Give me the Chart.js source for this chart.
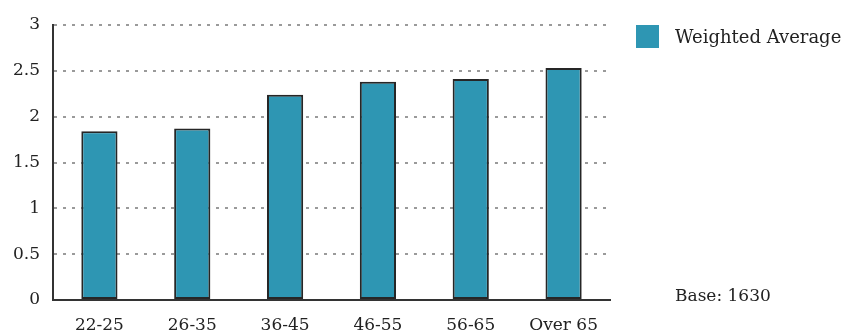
<!DOCTYPE html>
<html>
<head>
<meta charset="utf-8">
<script src="https://cdn.jsdelivr.net/npm/chart.js@4/dist/chart.umd.min.js"></script>
<style>
  html, body { margin: 0; padding: 0; background: #fff; }
  #wrap { position: relative; width: 846px; height: 336px; }
  #c { position: absolute; left: 0; top: 0; }
  .legend { position: absolute; left: 636px; top: 25px; height: 23px; display: flex; align-items: center;
            font-family: "DejaVu Serif", serif; font-size: 18px; color: #222; white-space: nowrap; }
  .legend .sw { width: 23px; height: 23px; margin-right: 16px; flex: none; }
  .base { position: absolute; left: 675px; top: 285px;
          font-family: "DejaVu Serif", serif; font-size: 17px; color: #222; }
</style>
</head>
<body>
<div id="wrap">
  <canvas id="c" width="846" height="336"></canvas>
  <div class="legend" id="legend"></div>
  <div class="base" id="base"></div>
</div>
<script>
// Average score by age group
const categories = ['22-25', '26-35', '36-45', '46-55', '56-65', 'Over 65'];
const weightedAverage = [1.84, 1.87, 2.24, 2.38, 2.41, 2.53];
const yTicks = [0, 0.5, 1, 1.5, 2, 2.5, 3];
const seriesName = 'Weighted Average';
const baseCount = 1630;

const barColor = '#2e96b3';
const inkColor = '#222222';
const fontFamily = '"DejaVu Serif", serif';

new Chart(document.getElementById('c'), {
  type: 'bar',
  data: {
    labels: categories,
    datasets: [{
      label: seriesName,
      data: weightedAverage,
      backgroundColor: barColor,
      borderColor: '#262626',
      borderWidth: 2,
      borderSkipped: false,
      barPercentage: 0.78,
      categoryPercentage: 0.5
    }]
  },
  options: {
    responsive: false,
    animation: false,
    layout: { padding: { top: 25, right: 236, bottom: 0, left: 0 } },
    plugins: { legend: { display: false }, tooltip: { enabled: false } },
    scales: {
      x: {
        grid: { display: false },
        border: { display: true, color: '#333', width: 2 },
        ticks: { color: inkColor, font: { family: fontFamily, size: 17 }, padding: 7 },
        afterFit: s => { s.height = 36; }
      },
      y: {
        min: 0,
        max: 3,
        afterBuildTicks: s => { s.ticks = yTicks.map(v => ({ value: v })); },
        grid: {
          color: ctx => ctx.tick && ctx.tick.value === 0 ? 'rgba(0,0,0,0)' : '#9a9a9a',
          lineWidth: 2,
          drawTicks: false
        },
        // dash here styles the grid lines; the axis line itself stays solid
        border: { display: true, color: '#333', width: 2, dash: [3, 6] },
        ticks: {
          color: inkColor,
          font: { family: fontFamily, size: 17 },
          padding: 13,
          callback: v => String(v)
        },
        afterFit: s => { s.width = 53; }
      }
    }
  }
});

document.getElementById('legend').innerHTML =
  '<span class="sw" style="background:' + barColor + '"></span>' + seriesName;
document.getElementById('base').textContent = 'Base: ' + baseCount;
</script>
</body>
</html>
